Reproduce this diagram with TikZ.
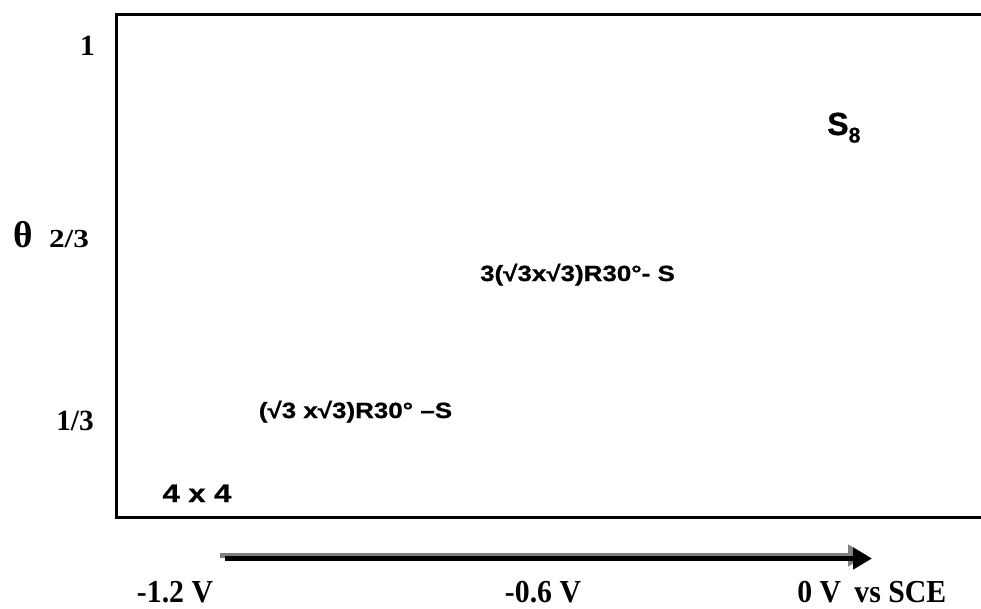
\documentclass[tikz,border=0pt]{standalone}
\usepackage{fontspec}
\setmainfont{Liberation Serif}
\newfontfamily\arialfont[BoldFont={Liberation Sans Bold}, BoldFeatures={FakeBold=0.8}]{Liberation Sans}
\usepackage{tikz}
\usetikzlibrary{arrows.meta}
\usepackage{xcolor}
\definecolor{shadowgray}{RGB}{128,128,128}

\tikzset{
  serif/.style={inner sep=0pt, anchor=base, font=\bfseries\fontsize{22}{22}\selectfont},
  sans/.style={inner sep=0pt, anchor=base, font=\arialfont\bfseries\fontsize{16.5}{17}\selectfont},
  volts/.style={serif, font=\bfseries\fontsize{24}{25}\selectfont, xscale=0.93}
}

\begin{document}
\begin{tikzpicture}[x={(0.75pt,0)}, y={(0,-0.75pt)}]
  \useasboundingbox (0,0) rectangle (981,608);
  % frame
  \draw[line width=2.25pt] (981,14.7) -- (116,14.7) -- (116,517.5) -- (981,517.5);
  % coverage axis
  \node[serif] (one) at (87.5,55) {1};
  \node[serif, font=\bfseries\fontsize{28}{28}\selectfont] (theta) at (23,247) {θ};
  \node[serif, font=\bfseries\fontsize{19.5}{20}\selectfont, xscale=1.2] (twothirds) at (69,247) {2/3};
  \node[serif] (onethird) at (75,430) {1/3};
  % surface phases
  \node[sans, font=\arialfont\bfseries\fontsize{19}{19}\selectfont, xscale=1.22] (fourbyfour) at (197,502) {4 x 4};
  \node[sans, xscale=1.18] (rtthree) at (355.5,418) {(√3 x√3)R30° –S};
  \node[sans, xscale=1.18] (threertthree) at (577.5,281) {3(√3x√3)R30°- S};
  \node[sans, anchor=base west, font=\arialfont\bfseries\fontsize{24}{24}\selectfont] (seight) at (827,135)
    {S\raisebox{-5.6pt}{\fontsize{16}{16}\selectfont 8}};
  % potential sweep
  \coordinate (vstart) at (225,558.5);
  \coordinate (vend) at (872,558.5);
  \draw[shadowgray, line width=3.75pt, -{Triangle[length=14.25pt,width=15.75pt]}]
    ([shift={(-5,-3)}]vstart) -- ([shift={(-5,-3)}]vend);
  \draw[line width=3.75pt, -{Triangle[length=14.25pt,width=15.75pt]}] (vstart) -- (vend);
  \node[volts] (vlow) at (175,602) {-1.2 V};
  \node[volts] (vmid) at (543,602) {-0.6 V};
  \node[volts, anchor=base west] (vhigh) at (797,602) {0 V\hspace{0.45em}vs SCE};
\end{tikzpicture}
\end{document}
